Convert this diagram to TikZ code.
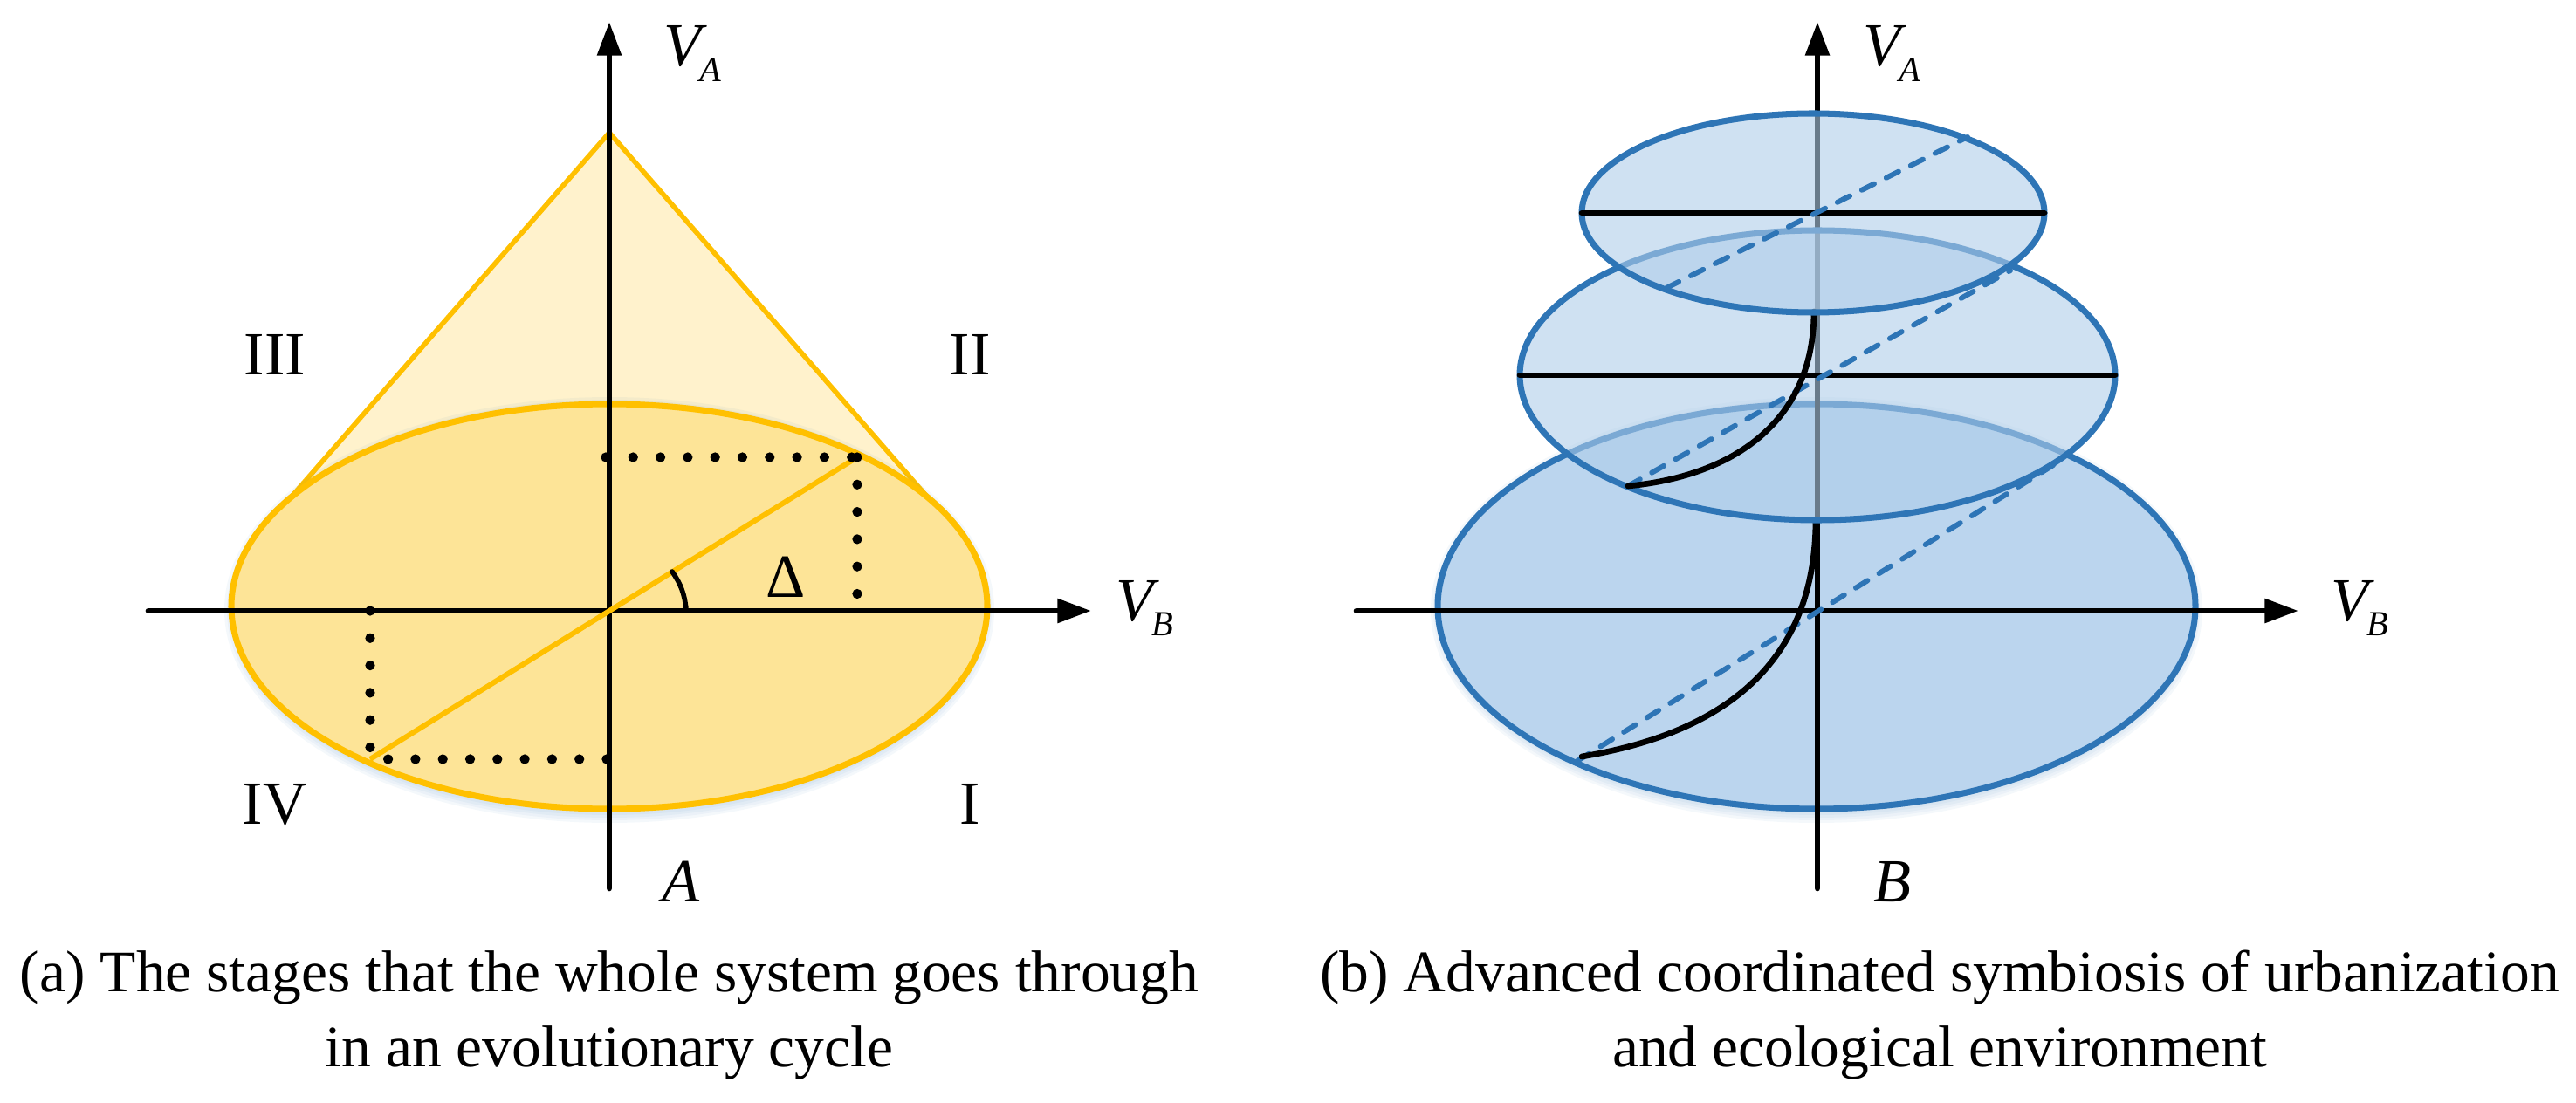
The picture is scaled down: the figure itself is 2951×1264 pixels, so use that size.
\documentclass[tikz,border=0pt]{standalone}
\usepackage{fontspec}
\setmainfont{Liberation Serif}
\usetikzlibrary{arrows.meta}
\definecolor{conefill}{HTML}{FFF2CC}
\definecolor{basefill}{HTML}{FDE497}
\definecolor{rimgold}{HTML}{FFC000}
\definecolor{rimblue}{HTML}{2E75B6}
\definecolor{bigfill}{HTML}{BBD5EE}
\definecolor{thinfill}{HTML}{AFCDE9}
\newcommand{\velo}[1]{\textit{V}\kern-2.5pt\raisebox{-5pt}{\fontsize{11.5}{12}\selectfont\textit{#1}}}
% soft shadow under a disc: centre x, centre y, x radius, y radius
\newcommand{\halo}[4]{\foreach \d in {3,6,9,12}{\fill[rimblue, fill opacity=0.05] (#1,#2+4) ellipse [x radius=#3+\d-4, y radius=#4+\d];}}
\begin{document}
\begin{tikzpicture}[
    x=0.01cm,
    y=-0.01cm,
    every node/.style={font=\fontsize{20}{25.6}\selectfont, inner sep=0pt},
    axis/.style={line width=1.9pt, line cap=round, -{Triangle[length=11pt,width=7.6pt]}},
    plain/.style={line width=1.9pt, line cap=round},
    hairline/.style={line width=1.6pt, line cap=round},
    rim/.style={draw=rimgold, line width=2pt},
    dotted line/.style={line width=3.2pt, line cap=round, dash pattern=on 0pt off 8.9pt},
    disc/.style={draw=rimblue, line width=2pt, fill=thinfill, fill opacity=0.6},
    diameter/.style={draw=rimblue, line width=1.7pt, line cap=round, dash pattern=on 4.5pt off 4.4pt},
    caption/.style={align=center, anchor=base, font=\fontsize{19.2}{24.2}\selectfont}
]
\useasboundingbox (0,0) rectangle (2951,1264);

% Left panel points
\coordinate (oa) at (698,700);
\coordinate (apex) at (698,152);
\coordinate (tanl) at (335,568);
\coordinate (tanr) at (1061,568);
\coordinate (ptup) at (982,524);
\coordinate (ptlow) at (424,870);

% Cone and base
\fill[conefill] (tanl) -- (apex) -- (tanr) -- cycle;
\draw[rim, line width=1.6pt] (tanl) -- (apex) -- (tanr);
\halo{698}{695}{433}{232}
\draw[rim, fill=basefill] (698,695) ellipse [x radius=433, y radius=232];

% Axes
\draw[axis] (170,700) -- (1250,700);
\draw[axis] (698,1018) -- (698,25);

\draw[rim, line width=1.7pt] (ptlow) -- (ptup);
\draw[hairline] (770,655) to[bend left=14] (786,698);

% Projections
\draw[dotted line] (694,524) -- (ptup);
\draw[dotted line] (ptup) -- (982,690);
\draw[dotted line] (424,700) -- (424,865);
\draw[dotted line] (695,870) -- (ptlow);

% Left labels
\node[anchor=base west] (vaa) at (760,76) {\velo{A}};
\node[anchor=base west] (vba) at (1278,711) {\velo{B}};
\node[anchor=base west] (namea) at (758,1033) {\textit{A}};
\node[anchor=base] (delta) at (900,684) {Δ};
\node[anchor=base] (stthree) at (315,430) {III};
\node[anchor=base] (sttwo) at (1111,430) {II};
\node[anchor=base] (stfour) at (315,944) {IV};
\node[anchor=base] (stone) at (1111,944) {I};

% Right panel, big disc first
\halo{2081}{695}{434}{232}
\draw[draw=rimblue, line width=2pt, fill=bigfill] (2081,695) ellipse [x radius=434, y radius=232];

\draw[axis] (1554,700) -- (2633,700);
\draw[axis] (2082,1018) -- (2082,25);

\draw[diameter] (1807,872) -- (2365,525);
\draw[plain] (2080,595) .. controls (2080,760) and (1975,840) .. (1812,867);

% Middle disc
\draw[disc] (2082,430) ellipse [x radius=341, y radius=166];
\draw[plain] (1741,430) -- (2423,430);
\draw[diameter] (1865,557) -- (2303,310);
\draw[plain] (2078,357) .. controls (2078,480) and (1990,545) .. (1865,557);

% Top disc
\draw[disc] (2077,244) ellipse [x radius=265, y radius=114];
\draw[plain] (1812,244) -- (2342,244);
\draw[diameter] (1909,330) -- (2254,157);

% Right labels
\node[anchor=base west] (vab) at (2134,76) {\velo{A}};
\node[anchor=base west] (vbb) at (2670,711) {\velo{B}};
\node[anchor=base west] (nameb) at (2146,1033) {\textit{B}};

% Captions
\node[caption] (capa) at (698,1222) {(a) The stages that the whole system goes through\\in an evolutionary cycle};
\node[caption] (capb) at (2222,1222) {(b) Advanced coordinated symbiosis of urbanization\\and ecological environment};
\end{tikzpicture}
\end{document}
